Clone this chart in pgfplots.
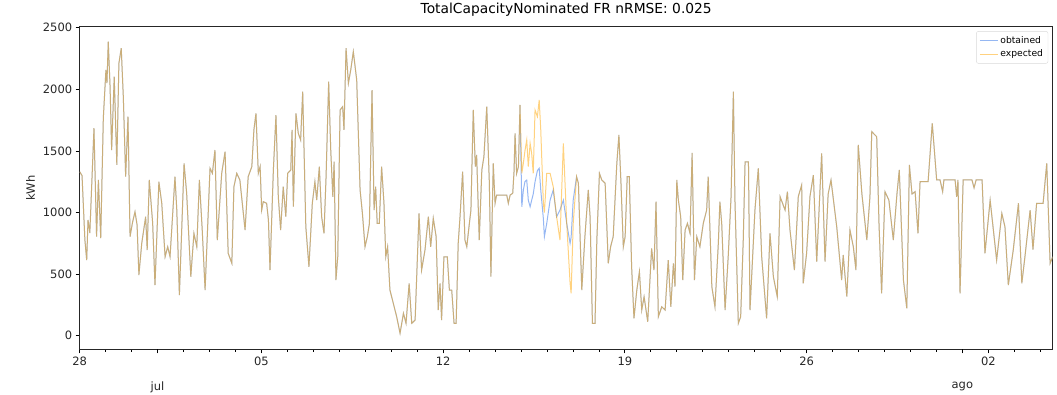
\documentclass[border=0pt]{standalone}
\usepackage{fontspec}
\setmainfont{DejaVu Sans}
\usepackage{pgfplots}
\usepackage{pgfplotstable}
\pgfplotsset{compat=1.18}
\definecolor{obtc}{RGB}{100,149,237}
\definecolor{expc}{RGB}{255,165,0}
\pgfplotstableread{
d exp obt
0.00 1331 1331
0.09 1300 1300
0.20 777 777
0.27 614 614
0.32 939 939
0.39 834 834
0.55 1685 1685
0.65 804 804
0.72 1264 1264
0.81 793 793
0.91 1767 1767
1.01 2157 2157
1.05 2050 2050
1.10 2386 2386
1.17 2021 2021
1.23 1507 1507
1.33 2102 2102
1.43 1386 1386
1.51 2211 2211
1.60 2333 2333
1.68 1940 1940
1.77 1291 1291
1.86 1778 1778
1.94 804 804
2.03 915 915
2.13 1006 1006
2.21 900 900
2.28 493 493
2.39 750 750
2.54 966 966
2.60 696 696
2.68 1264 1264
2.81 915 915
2.90 411 411
3.05 1250 1250
3.16 1077 1077
3.29 641 641
3.39 722 722
3.48 641 641
3.67 1291 1291
3.74 1020 1020
3.84 330 330
4.02 1399 1399
4.12 1156 1156
4.28 479 479
4.40 831 831
4.51 722 722
4.61 1264 1264
4.72 858 858
4.83 371 371
5.02 1359 1359
5.11 1318 1318
5.21 1507 1507
5.30 777 777
5.47 1318 1318
5.60 1494 1494
5.72 669 669
5.86 588 588
5.94 1209 1209
6.05 1318 1318
6.17 1264 1264
6.37 858 858
6.49 1291 1291
6.63 1372 1372
6.71 1670 1670
6.79 1805 1805
6.88 1318 1318
6.95 1372 1372
7.01 1020 1020
7.07 1088 1088
7.20 1075 1075
7.27 939 939
7.33 533 533
7.46 1345 1345
7.56 1791 1791
7.65 1128 1128
7.74 858 858
7.84 1209 1209
7.94 966 966
8.01 1318 1318
8.13 1345 1345
8.18 1670 1670
8.23 1047 1047
8.33 1805 1805
8.42 1643 1643
8.51 1589 1589
8.59 1981 1981
8.71 885 885
8.83 560 560
8.96 1075 1075
9.06 1250 1250
9.13 1101 1101
9.23 1372 1372
9.32 966 966
9.41 831 831
9.49 1291 1291
9.59 2062 2062
9.67 1507 1507
9.75 1128 1128
9.80 1412 1412
9.87 452 452
9.94 641 641
10.03 1832 1832
10.13 1859 1859
10.18 1670 1670
10.26 2333 2333
10.35 2049 2049
10.44 2157 2157
10.54 2305 2305
10.67 2076 2076
10.80 1183 1183
10.89 993 993
10.99 722 722
11.08 804 804
11.16 912 912
11.26 1994 1994
11.34 1020 1020
11.40 1209 1209
11.46 912 912
11.54 912 912
11.63 1372 1372
11.72 1075 1075
11.79 641 641
11.86 722 722
11.95 371 371
12.08 263 263
12.21 154 154
12.34 20 20
12.47 182 182
12.57 101 101
12.69 425 425
12.79 101 101
12.92 127 127
13.07 993 993
13.17 533 533
13.30 696 696
13.43 966 966
13.52 722 722
13.62 953 953
13.73 804 804
13.81 209 209
13.88 425 425
13.94 127 127
14.03 641 641
14.16 641 641
14.24 371 371
14.33 371 371
14.42 101 101
14.50 101 101
14.58 750 750
14.65 966 966
14.75 1331 1331
14.84 777 777
14.91 722 722
15.01 912 912
15.07 1020 1020
15.16 1832 1832
15.24 1372 1372
15.29 1467 1467
15.39 777 777
15.49 1345 1345
15.57 1453 1453
15.68 1859 1859
15.78 1237 1237
15.84 479 479
15.93 1399 1399
16.00 1075 1075
16.06 1142 1142
16.45 1142 1142
16.51 1075 1075
16.58 1142 1142
16.68 1156 1156
16.73 1331 1331
16.77 1643 1643
16.83 1318 1318
16.90 1372 1372
16.96 1873 1873
17.03 1318 1047
17.09 1400 1183
17.15 1500 1250
17.22 1589 1264
17.28 1372 1100
17.35 1561 1047
17.41 1480 1100
17.47 1318 1150
17.54 1832 1250
17.63 1778 1340
17.70 1913 1359
17.76 1670 1183
17.86 1075 950
17.90 1000 804
17.99 1318 912
18.12 1318 1101
18.24 1209 1183
18.37 966 966
18.50 777 1020
18.63 1561 1101
18.76 912 912
18.89 425 750
18.93 344 800
19.01 912 1101
19.14 1291 1291
19.21 1237 1237
19.34 371 371
19.46 804 804
19.59 1183 1183
19.66 966 966
19.75 101 101
19.85 101 101
19.92 777 777
20.02 1318 1318
20.11 1264 1264
20.24 1237 1237
20.36 588 588
20.45 722 722
20.55 804 804
20.69 1399 1399
20.77 1629 1629
20.85 1237 1237
20.94 722 722
21.01 804 804
21.09 1291 1291
21.17 1291 1291
21.26 560 560
21.35 141 141
21.46 371 371
21.56 520 520
21.65 209 209
21.74 317 317
21.88 114 114
22.03 709 709
22.12 533 533
22.20 1088 1088
22.29 154 154
22.42 235 235
22.55 209 209
22.67 614 614
22.77 235 235
22.87 588 588
22.93 398 398
23.00 1264 1264
23.06 1101 1101
23.15 966 966
23.23 452 452
23.32 858 858
23.41 912 912
23.51 831 831
23.59 1483 1483
23.68 452 452
23.77 804 804
23.89 722 722
24.02 912 912
24.15 1020 1020
24.21 1291 1291
24.35 398 398
24.47 235 235
24.60 750 750
24.66 1088 1088
24.73 912 912
24.86 209 209
24.98 641 641
25.09 1128 1128
25.18 1981 1981
25.24 1100 1100
25.37 101 101
25.46 154 154
25.56 777 777
25.63 1412 1412
25.76 1412 1412
25.82 209 209
26.01 1020 1020
26.14 1359 1359
26.27 641 641
26.46 141 141
26.59 831 831
26.72 479 479
26.87 317 317
26.98 1128 1128
27.17 1020 1020
27.26 1169 1169
27.36 858 858
27.53 533 533
27.68 1130 1130
27.81 1223 1223
27.87 425 425
28.00 669 669
28.13 1130 1130
28.26 1304 1304
28.39 601 601
28.58 1480 1480
28.71 601 601
28.83 1150 1150
28.94 1264 1264
29.16 885 885
29.35 452 452
29.41 655 655
29.55 317 317
29.67 858 858
29.80 722 722
29.90 533 533
29.99 1548 1548
30.13 1150 1150
30.32 777 777
30.44 1130 1130
30.51 1656 1656
30.70 1615 1615
30.79 900 900
30.89 344 344
31.02 1169 1169
31.17 1100 1100
31.34 777 777
31.48 1150 1150
31.57 1345 1345
31.73 452 452
31.86 222 222
31.96 1386 1386
32.06 1150 1150
32.18 1169 1169
32.29 831 831
32.37 1250 1250
32.68 1250 1250
32.84 1724 1724
33.01 1264 1264
33.14 1264 1264
33.24 1169 1169
33.29 1264 1264
33.72 1264 1264
33.78 1128 1128
33.83 1264 1264
33.91 344 344
34.03 1264 1264
34.37 1264 1264
34.45 1200 1200
34.53 1264 1264
34.76 1264 1264
34.87 669 669
35.07 1100 1100
35.32 614 614
35.52 993 993
35.64 885 885
35.77 411 411
35.96 696 696
36.16 1075 1075
36.29 425 425
36.41 641 641
36.61 1020 1020
36.72 700 700
36.86 1075 1075
37.11 1075 1075
37.25 1399 1399
37.38 588 588
37.48 641 641
}\datatable
\begin{document}
\begin{tikzpicture}
\useasboundingbox (0,0) rectangle (1057pt,394pt);
\begin{axis}[
  at={(79.7pt,44.7pt)}, anchor=south west,
  scale only axis, width=973pt, height=322.6pt,
  xmin=0, xmax=37.48, ymin=-110, ymax=2508,
  xtick={0,7,14,21,28,35},
  xticklabels={28,05,12,19,26,02},
  minor xtick={1,...,37},
  extra x ticks={3,34},
  extra x tick labels={jul,ago},
  extra x tick style={tick label style={yshift=-25pt}},
  ytick={0,500,1000,1500,2000,2500},
  /pgf/number format/1000 sep={},
  /pgf/number format/assume math mode=true,
  tick align=outside, xtick pos=left, ytick pos=left,
  major tick length=4pt, minor tick length=2.2pt,
  tick style={black, line width=0.8pt},
  axis line style={line width=0.9pt, black!85},
  ticklabel style={font=\fontsize{11.5}{13}\selectfont, black!85},
  ylabel={kWh},
  ylabel style={at={(axis description cs:-0.0505,0.5)}, anchor=center, font=\fontsize{11.5}{13}\selectfont, black!85},
  title={TotalCapacityNominated FR nRMSE: 0.025},
  title style={at={(axis description cs:0.5,1)}, anchor=base, yshift=6.7pt, font=\fontsize{13.8}{15}\selectfont},
  legend style={at={(1,1)}, anchor=north east, xshift=-4.5pt, yshift=-4.5pt,
    draw=black!15, rounded corners=2pt, font=\fontsize{9.2}{11}\selectfont, inner sep=3pt,
    row sep=1pt},
  legend cell align=left,
  legend image code/.code={\draw[#1] (0pt,0pt) -- (18pt,0pt);},
]
\addplot[obtc, line width=1pt, draw opacity=0.68] table[x=d, y=obt] {\datatable};
\addlegendentry{obtained}
\addplot[expc, line width=1pt, draw opacity=0.5] table[x=d, y=exp] {\datatable};
\addlegendentry{expected}
\end{axis}
\end{tikzpicture}
\end{document}
